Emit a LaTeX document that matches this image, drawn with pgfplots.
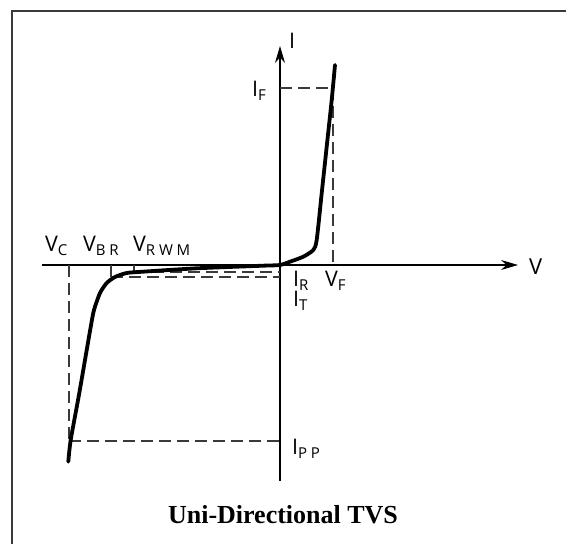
\documentclass[border=0pt]{standalone}
\usepackage{pgfplots}
\pgfplotsset{compat=1.18}
\usepackage{fontspec}
\setmainfont{Open Sans}
\newfontfamily\titlefont{Liberation Serif}
\usetikzlibrary{arrows.meta}
\definecolor{ln}{HTML}{3A3A3A}
\newcommand\lbl[2]{{\fontsize{21.5}{21}\selectfont #1}\raisebox{-3.5pt}{\fontsize{15}{15}\selectfont\addfontfeature{LetterSpace=25}#2}}
\begin{document}
\begin{tikzpicture}
\begin{axis}[
  width=566pt, height=544pt, scale only axis,
  xmin=-280, xmax=286, ymin=-279, ymax=265,
  hide axis, clip=false,
]
% frame
\addplot[ln, line width=2pt] coordinates {(286,254) (-268,254) (-268,-279)};
% axes
\addplot[black, line width=1.1pt, -{Stealth[length=17pt,width=10pt]}] coordinates {(-238,0) (238,0)};
\addplot[black, line width=1.1pt, -{Stealth[length=17pt,width=10pt]}] coordinates {(0,-216) (0,219)};
% reference lines
\addplot[ln, line width=1.1pt, dash pattern=on 12pt off 6pt] coordinates {(0,177) (50,177)};
\addplot[ln, line width=1.1pt, dash pattern=on 12pt off 6pt] coordinates {(53,177) (53,0)};
\addplot[ln, line width=1.1pt, dash pattern=on 12pt off 6pt] coordinates {(-211,0) (-211,-176)};
\addplot[ln, line width=1.1pt, dash pattern=on 12pt off 6pt] coordinates {(-211,-176) (0,-176)};
\addplot[ln, line width=1.1pt, dash pattern=on 12pt off 6pt] coordinates {(-169,-12) (0,-12)};
\addplot[ln, line width=1.1pt, dash pattern=on 12pt off 6pt] coordinates {(-146,-7) (0,-7)};
\addplot[ln, line width=1.1pt] coordinates {(-169,0) (-169,-12)};
\addplot[ln, line width=1.1pt] coordinates {(-146,0) (-146,-7)};
% characteristic curve
\addplot[black, line width=3.8pt, line cap=round, line join=round, smooth, tension=0.4] coordinates {
(-211.7,-196.7) (-209.3,-175) (-200.7,-128) (-189.3,-62) (-186,-45) (-180,-28)
(-173.3,-18) (-165,-12) (-153.3,-8) (-137,-6.7) (-83,-3.3) (-17,-0.7) (0,0)
(10,3.3) (23.3,8.3) (33.3,15) (36.7,25) (41.7,71.7) (46.7,118.3) (51.7,165) (55,200)};
% labels
\node[anchor=base west, inner sep=0] at (axis cs:-235,13) {\lbl{V}{C}};
\node[anchor=base west, inner sep=0] at (axis cs:-197,13) {\lbl{V}{BR}};
\node[anchor=base west, inner sep=0] at (axis cs:-147,13) {\lbl{V}{RWM}};
\node[anchor=base west, inner sep=0] at (axis cs:9,216) {\fontsize{21.5}{21}\selectfont I};
\node[anchor=base west, inner sep=0] at (axis cs:-28,168) {\lbl{I}{F}};
\node[anchor=base west, inner sep=0] at (axis cs:13,-22) {\lbl{I}{R}};
\node[anchor=base west, inner sep=0] at (axis cs:13,-42) {\lbl{I}{T}};
\node[anchor=base west, inner sep=0] at (axis cs:45,-22) {\lbl{V}{F}};
\node[anchor=base west, inner sep=0] at (axis cs:12,-190) {\lbl{I}{PP}};
\node[anchor=base west, inner sep=0] at (axis cs:249,-10) {\fontsize{22}{22}\selectfont V};
\node[anchor=base, inner sep=0] at (axis cs:3,-259) {\titlefont\bfseries\fontsize{26}{26}\selectfont Uni-Directional TVS};
\end{axis}
\pgfresetboundingbox
\path (current axis.south west) rectangle (current axis.north east);
\end{tikzpicture}
\end{document}
